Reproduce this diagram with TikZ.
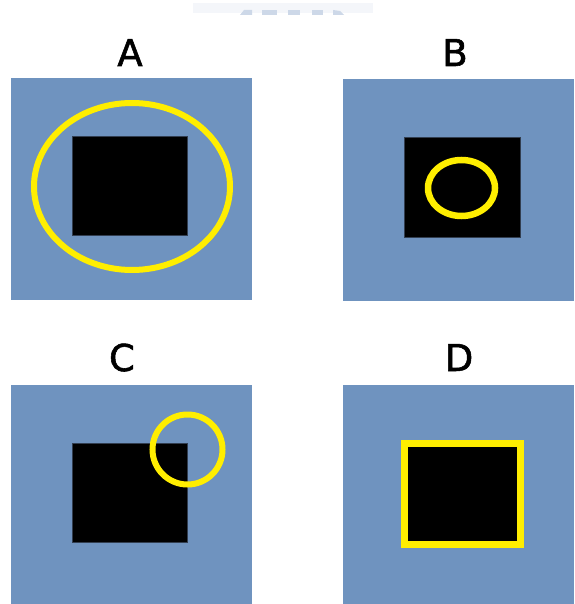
\documentclass[tikz,border=0pt]{standalone}
\usepackage{fontspec}
\newfontfamily\labfont[FakeBold=1.5]{DejaVu Sans}
\definecolor{panelblue}{RGB}{111,147,191}
\definecolor{ringyellow}{RGB}{255,238,0}
\definecolor{wmblue}{RGB}{205,216,232}
\definecolor{wmfaint}{RGB}{244,246,250}
\tikzset{
  panel/.style={fill=panelblue, draw=none},
  blk/.style={fill=black, draw={rgb,255:red,50;green,62;blue,80}, line width=0.6pt},
  ring/.style={draw=ringyellow, line width=6pt},
  lab/.style={font=\labfont\fontsize{37}{37}\selectfont, inner sep=0pt, anchor=base}
}
\begin{document}
\begin{tikzpicture}[x=1pt,y=-1pt]
\useasboundingbox (0,0) rectangle (574,604);
\fill[white] (0,0) rectangle (574,604);
% faint watermark remnant at top
\fill[wmfaint] (193,3) rectangle (373,13);
\fill[wmblue] (240,15) -- (244,10) -- (252,10) -- (252,15) -- cycle;
\fill[wmblue] (262,10) rectangle (277,15);
\fill[wmblue] (288,10) rectangle (300,15);
\fill[wmblue] (312,10) rectangle (323,15);
\fill[wmblue] (333,10) -- (340,11) -- (344,15) -- (333,15) -- cycle;
% labels
\node[lab] (la) at (130,66) {A};
\node[lab] (lb) at (455,66) {B};
\node[lab] (lc) at (122,371) {C};
\node[lab] (ld) at (459,371) {D};
% panel A
\fill[panel] (11,78) rectangle (252,300);
\filldraw[blk] (72,136) rectangle (187,235);
\draw[ring] (132,186.5) ellipse [x radius=98, y radius=83.5];
% panel B
\fill[panel] (343,79) rectangle (574,301);
\filldraw[blk] (404,137) rectangle (520,237);
\draw[ring, line width=6.5pt] (461.5,188) ellipse [x radius=33.5, y radius=28];
% panel C
\fill[panel] (11,385) rectangle (252,604);
\filldraw[blk] (72,443) rectangle (187,542);
\draw[ring] (187.5,449.5) circle [radius=35];
% panel D
\fill[panel] (343,385) rectangle (574,604);
\fill[black] (404.5,443.5) rectangle (520.5,544.5);
\draw[draw=ringyellow, line width=7pt] (404.5,443.5) rectangle (520.5,544.5);
\end{tikzpicture}
\end{document}
